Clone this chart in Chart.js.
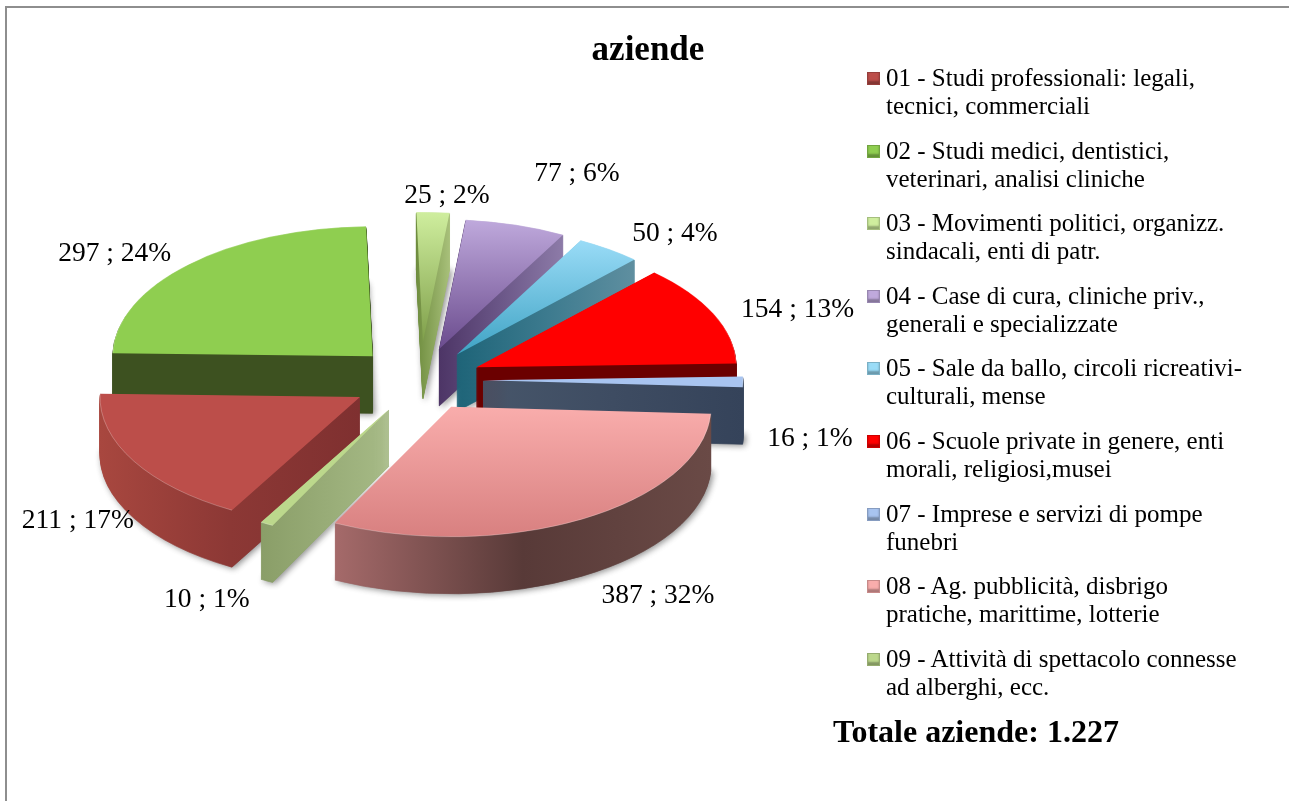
<!DOCTYPE html>
<html lang="it">
<head>
<meta charset="utf-8">
<title>aziende</title>
<script src="https://cdn.jsdelivr.net/npm/chart.js@4"></script>
<style>
  html, body { margin: 0; padding: 0; background: #fff; overflow: hidden; }
  body { width: 1289px; height: 801px; position: relative; font-family: "Liberation Serif", serif; color: #000; }
  #cornice { position: absolute; left: 5px; top: 6px; width: 1290px; height: 800px; border: 2px solid #8e8e8e; box-sizing: border-box; }
  #grafico { position: absolute; left: 0; top: 0; }
  #titolo { position: absolute; left: 448px; width: 400px; top: 30px; text-align: center; font-weight: bold; font-size: 35px; line-height: 38px; }
  #legenda { position: absolute; left: 867px; top: 64px; font-size: 25px; line-height: 28px; }
  .voce { position: relative; padding-left: 19px; height: 56px; margin-bottom: 16.6px; white-space: pre; }
  .quadro { position: absolute; left: 0; top: 8px; width: 13px; height: 13px; box-sizing: border-box; border: 1px solid rgba(0,0,0,.2); box-shadow: inset 0 -3px 2px rgba(0,0,0,.3); }
  #totale { position: absolute; left: 833px; top: 713px; font-weight: bold; font-size: 32px; line-height: 36px; white-space: pre; }
</style>
</head>
<body>
<div id="cornice"></div>
<canvas id="grafico" width="1289" height="801"></canvas>
<div id="titolo"></div>
<div id="legenda"></div>
<div id="totale"></div>
<script>
// Dati
const titolo = 'aziende';
const totale = 'Totale aziende: 1.227';
const categorie = [
  '01 - Studi professionali: legali,\ntecnici, commerciali',
  '02 - Studi medici, dentistici,\nveterinari, analisi cliniche',
  '03 - Movimenti politici, organizz.\nsindacali, enti di patr.',
  '04 - Case di cura, cliniche priv.,\ngenerali e specializzate',
  '05 - Sale da ballo, circoli ricreativi-\nculturali, mense',
  '06 - Scuole private in genere, enti\nmorali, religiosi,musei',
  '07 - Imprese e servizi di pompe\nfunebri',
  '08 - Ag. pubblicità, disbrigo\npratiche, marittime, lotterie',
  '09 - Attività di spettacolo connesse\nad alberghi, ecc.'
];
const valori = [211, 297, 25, 77, 50, 154, 16, 387, 10];

// Stile delle fette
const coloriAlto = [
  ['#bc4e4a', '#bc4e4a'], ['#8fce50', '#8fce50'], ['#cfee9e', '#7f9f4a'],
  ['#bfa9dc', '#6b4c8e'], ['#9adcf7', '#3fa3c4'], ['#ff0000', '#ff0000'],
  ['#a8c4f0', '#a8c4f0'], ['#f9adac', '#d88080'], ['#bcd88c', '#bcd88c']
];
const coloriLato = [
  ['#a8473f', '#8c3835', '#7f3030'], ['#3d5120', '#3d5120', '#3d5120'], ['#6f8d3f', '#8ba65c', '#a8c07a'],
  ['#4d3566', '#6b5788', '#8d7ba8'], ['#1e6478', '#3c7a8e', '#5f8fa0'], ['#6b0000', '#6b0000', '#6b0000'],
  ['#47566a', '#3e4c62', '#35435a'], ['#a56a6a', '#583a38', '#6a4a46'], ['#8a9e68', '#98ac77', '#a6ba86']
];
const esplosione = [69, 67, 76, 65, 63, 62, 63, 62, 66];
const ordineDisegno = [1, 2, 3, 4, 5, 6, 0, 8, 7];
const scartoEtichette = [[-56, 60], [-74, -11], [14, -16], [61, -51], [66, -15], [84, -4], [67, 57], [76, 77], [-60, 76]];
const schiacciamento = 0.5;
const spessore = 57;
const raggio = 260;
const fontTesto = '"Liberation Serif", serif';

const somma = valori.reduce((a, b) => a + b, 0);
const etichette = valori.map(v => `${v} ; ${Math.round(v / somma * 100)}%`);

// Estensione di una fetta sui due assi, per i gradienti
function estensione(arc) {
  let minX = 0, maxX = 0, minY = 0, maxY = 0;
  for (let i = 0; i <= 40; i++) {
    const a = arc.startAngle + (arc.endAngle - arc.startAngle) * i / 40;
    minX = Math.min(minX, Math.cos(a) * raggio);
    maxX = Math.max(maxX, Math.cos(a) * raggio);
    minY = Math.min(minY, Math.sin(a) * raggio);
    maxY = Math.max(maxY, Math.sin(a) * raggio);
  }
  return { x0: arc.x + minX, x1: arc.x + maxX, y0: arc.y + minY, y1: arc.y + maxY };
}

function disegnaFetta(ctx, arc, fill, bordo) {
  const opzioni = arc.options;
  arc.options = Object.assign({}, opzioni, { backgroundColor: fill, borderColor: fill, borderWidth: bordo, offset: 0 });
  arc.draw(ctx);
  arc.options = opzioni;
}

// La torta e' disegnata schiacciata e con lo spessore, usando gli archi di Chart.js
const torta3d = {
  id: 'torta3d',
  beforeDatasetsDraw(chart) {
    const ctx = chart.ctx;
    const archi = chart.getDatasetMeta(0).data;
    ordineDisegno.forEach(i => {
      const arc = archi[i];
      const meta = (arc.startAngle + arc.endAngle) / 2;
      const ex = Math.cos(meta) * esplosione[i];
      const ey = Math.sin(meta) * esplosione[i];
      const box = estensione(arc);

      const lato = ctx.createLinearGradient(box.x0, 0, box.x1, 0);
      coloriLato[i].forEach((c, k) => lato.addColorStop(k / 2, c));
      const alto = ctx.createLinearGradient(0, box.y0, 0, box.y1);
      coloriAlto[i].forEach((c, k) => alto.addColorStop(k, c));

      const trasforma = d => {
        ctx.translate(arc.x, arc.y + d);
        ctx.scale(1, schiacciamento);
        ctx.translate(-arc.x + ex, -arc.y + ey);
      };

      for (let d = spessore; d > 0; d--) {
        ctx.save();
        if (d === spessore) {
          ctx.shadowColor = 'rgba(0,0,0,.45)';
          ctx.shadowBlur = 6;
          ctx.shadowOffsetX = 2;
          ctx.shadowOffsetY = 1;
        }
        trasforma(d);
        disegnaFetta(ctx, arc, lato, 1);
        ctx.restore();
      }
      ctx.save();
      trasforma(0);
      disegnaFetta(ctx, arc, alto, 0);
      ctx.beginPath();
      ctx.arc(arc.x, arc.y, raggio, arc.startAngle, arc.endAngle);
      ctx.restore();
      ctx.strokeStyle = 'rgba(255,255,255,.25)';
      ctx.lineWidth = 1;
      ctx.stroke();
    });
    return false;
  },
  afterDraw(chart) {
    const ctx = chart.ctx;
    const archi = chart.getDatasetMeta(0).data;
    ctx.save();
    ctx.font = `27.5px ${fontTesto}`;
    ctx.fillStyle = '#000';
    ctx.textAlign = 'center';
    ctx.textBaseline = 'middle';
    archi.forEach((arc, i) => {
      const meta = (arc.startAngle + arc.endAngle) / 2;
      const r = raggio + esplosione[i];
      const x = arc.x + Math.cos(meta) * r + scartoEtichette[i][0];
      const y = arc.y + Math.sin(meta) * r * schiacciamento + scartoEtichette[i][1];
      ctx.fillText(etichette[i], x, y);
    });
    ctx.restore();
  }
};

new Chart(document.getElementById('grafico'), {
  type: 'pie',
  data: {
    labels: categorie,
    datasets: [{ data: valori, backgroundColor: coloriAlto.map(c => c[0]), borderWidth: 0 }]
  },
  options: {
    responsive: false,
    animation: false,
    rotation: 209.5,
    radius: raggio,
    layout: { padding: { right: 449, bottom: 41 } },
    plugins: { legend: { display: false }, tooltip: { enabled: false }, title: { display: false } }
  },
  plugins: [torta3d]
});

document.getElementById('titolo').textContent = titolo;
document.getElementById('totale').textContent = totale;
const legenda = document.getElementById('legenda');
categorie.forEach((testo, i) => {
  const voce = document.createElement('div');
  voce.className = 'voce';
  const quadro = document.createElement('span');
  quadro.className = 'quadro';
  quadro.style.background = coloriAlto[i][0];
  voce.appendChild(quadro);
  voce.appendChild(document.createTextNode(testo));
  legenda.appendChild(voce);
});
</script>
</body>
</html>
